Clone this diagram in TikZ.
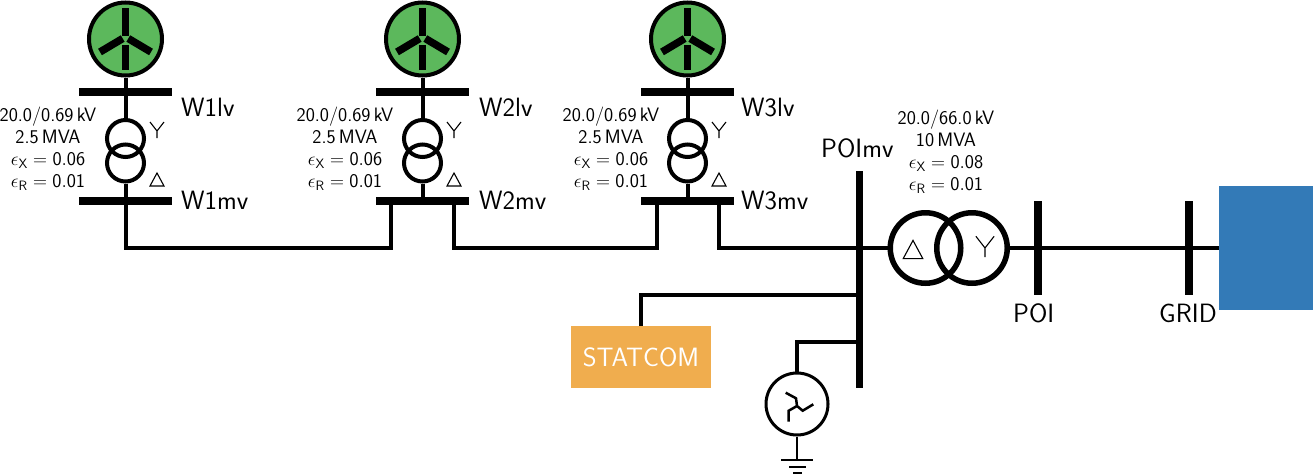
\RequirePackage{fix-cm}
\documentclass[tikz,border=0pt]{standalone}
\usepackage{xcolor}
\usepackage{tikz}
\definecolor{turbinegreen}{HTML}{5CB85C}
\definecolor{statcomorange}{HTML}{F0AD4E}
\definecolor{gridblue}{HTML}{337AB7}
\newcommand{\fsize}[1]{\fontsize{#1}{#1}\selectfont\sffamily}
\tikzset{
	turbine/.style={circle,draw,fill=turbinegreen,line width=4pt,minimum size=73pt,inner sep=0pt,
		path picture={
			\draw[line width=7.5pt] ([yshift=31pt]path picture bounding box.center) -- ++(0,-28pt);
			\draw[line width=7.5pt] ([yshift=-6pt]path picture bounding box.center) -- ++(0,-25pt);
			\draw[line width=7.5pt] ([shift={(-2.8pt,0.5pt)}]path picture bounding box.center) -- ++(-22.7pt,-13.5pt);
			\draw[line width=7.5pt] ([shift={(2.8pt,0.5pt)}]path picture bounding box.center) -- ++(22.7pt,-13.5pt);
		}},
	winding/.style={circle,draw,line width=4pt,minimum size=37pt,inner sep=0pt},
	bigwinding/.style={circle,draw,line width=5.5pt,minimum size=70.5pt,inner sep=0pt},
	hbus/.style={rectangle,fill=black,minimum width=93pt,minimum height=8pt,inner sep=0pt},
	vbus/.style={rectangle,fill=black,minimum width=8pt,minimum height=94pt,inner sep=0pt},
	gndbar/.style={rectangle,fill=black,minimum height=2pt,inner sep=0pt},
	buslabel/.style={anchor=base west,inner sep=0pt,font=\fsize{26.5pt}},
	ratings/.style={align=center,inner sep=0pt,font=\fontsize{19.4pt}{22pt}\selectfont\sffamily},
	every pic/.style={line width=1.1pt},
	wye/.pic={\draw[pic actions] (-7,-9) -- (0,0) -- (7,-9) (0,0) -- (0,7);},
	delt/.pic={\draw[pic actions,line join=miter] (-7,6.5) -- (7,6.5) -- (0,-6.5) -- cycle;}
}
\begin{document}
\begin{tikzpicture}[x=1pt,y=-1pt]
	\useasboundingbox (0,0) rectangle (1313,474);
	% wind turbines
	\begin{scope}[every node/.style={turbine}]
		\node (T1) at (125.5,39) {};
		\node (T2) at (422.5,39) {};
		\node (T3) at (687.5,39) {};
	\end{scope}
	% busbars
	\begin{scope}[every node/.style={hbus}]
		\node (W1lv) at (125.5,92) {};
		\node (W2lv) at (422.5,92) {};
		\node (W3lv) at (687.5,92) {};
		\node (W1mv) at (125.5,201) {};
		\node (W2mv) at (422.5,201) {};
		\node (W3mv) at (687.5,201) {};
	\end{scope}
	\node[vbus,minimum width=7pt,minimum height=217pt] (POImv) at (859,279.5) {};
	\node[vbus] (POI) at (1038,248) {};
	\node[vbus] (GRID) at (1189,248) {};
	% turbine transformers
	\begin{scope}[every node/.style={winding}]
		\node (X1a) at (125.5,138.5) {};
		\node (X1b) at (125.5,163) {};
		\node (X2a) at (422.5,138.5) {};
		\node (X2b) at (422.5,163) {};
		\node (X3a) at (687.5,138.5) {};
		\node (X3b) at (687.5,163) {};
	\end{scope}
	% main transformer
	\begin{scope}[every node/.style={bigwinding}]
		\node (XPa) at (925.5,248) {};
		\node (XPb) at (972,248) {};
	\end{scope}
	% blocks and condenser
	\node[rectangle,fill=gridblue,minimum width=94pt,minimum height=124pt,inner sep=0pt] (NET) at (1266,248) {};
	\node[rectangle,fill=statcomorange,minimum width=140pt,minimum height=62pt,inner sep=0pt,text=white,font=\fsize{26.5pt}] (STATCOM) at (641,357) {STATCOM};
	\node[circle,draw,line width=3pt,minimum size=62pt,inner sep=0pt] (GEN) at (797,404) {};
	\node[gndbar,minimum width=32pt] (G1) at (797,460) {};
	\node[gndbar,minimum width=17pt] (G2) at (797,467) {};
	\node[gndbar,minimum width=9pt] (G3) at (797,473) {};
	\coordinate (R0) at (797,406);
	\draw[line width=2.5pt] (785.7,392.7) -- (796,398.3) -- (R0) -- (802.7,410.7) -- (813.3,404.3);
	\draw[line width=2.5pt] (R0) -- (788.7,410.7) -- (788.7,421.7);
	% tapping points
	\coordinate (J2a) at (391,201);
	\coordinate (J2b) at (454,201);
	\coordinate (J3a) at (657,201);
	\coordinate (J3b) at (719,201);
	\coordinate (POIa) at (859,248);
	\coordinate (POIb) at (863,295);
	\coordinate (POIc) at (859,342);
	% connectors
	\begin{scope}[line width=4pt]
		\draw (T1) -- (X1a);
		\draw (X1b) -- (W1mv.center) |- (J2a |- POIa) -- (J2a);
		\draw (T2) -- (X2a);
		\draw (X2b) -- (W2mv.center);
		\draw (J2b) |- (J3a |- POIa) -- (J3a);
		\draw (T3) -- (X3a);
		\draw (X3b) -- (W3mv.center);
		\draw (J3b) |- (POIa) -- (XPa);
		\draw (XPb) -- (NET);
		\draw (STATCOM.north) |- (POIb);
		\draw (GEN.north) |- (POIc);
	\end{scope}
	\draw[line width=2pt] (GEN) -- (G1);
	% winding symbols
	\pic at (157,131) {wye};
	\pic at (157,179.5) {delt};
	\pic at (454,131) {wye};
	\pic at (454,179.5) {delt};
	\pic at (719,131) {wye};
	\pic at (719,179.5) {delt};
	\pic[scale=1.4,line width=1.7pt] at (913,249.5) {delt};
	\pic[scale=1.3,line width=1.7pt] at (985,248) {wye};
	% bus names
	\begin{scope}[every node/.style={buslabel}]
		\node (L1lv) at (181,116) {W1lv};
		\node (L1mv) at (181,209) {W1mv};
		\node (L2lv) at (479,116) {W2lv};
		\node (L2mv) at (479,209) {W2mv};
		\node (L3lv) at (741,116) {W3lv};
		\node (L3mv) at (741,209) {W3mv};
		\node (LPm) at (821,157) {POImv};
		\node (LP) at (1013,322) {POI};
		\node (LG) at (1159,322) {GRID};
	\end{scope}
	% transformer ratings
	\begin{scope}[every node/.style={ratings}]
		\node (R1) at (48,149) {20.0/0.69\,kV\\2.5\,MVA\\$\epsilon_{\mathsf{X}}=\mathsf{0.06}$\\$\epsilon_{\mathsf{R}}=\mathsf{0.01}$};
		\node (R2) at (345,149) {20.0/0.69\,kV\\2.5\,MVA\\$\epsilon_{\mathsf{X}}=\mathsf{0.06}$\\$\epsilon_{\mathsf{R}}=\mathsf{0.01}$};
		\node (R3) at (611,149) {20.0/0.69\,kV\\2.5\,MVA\\$\epsilon_{\mathsf{X}}=\mathsf{0.06}$\\$\epsilon_{\mathsf{R}}=\mathsf{0.01}$};
		\node (RP) at (946,152) {20.0/66.0\,kV\\10\,MVA\\$\epsilon_{\mathsf{X}}=\mathsf{0.08}$\\$\epsilon_{\mathsf{R}}=\mathsf{0.01}$};
	\end{scope}
\end{tikzpicture}
\end{document}
